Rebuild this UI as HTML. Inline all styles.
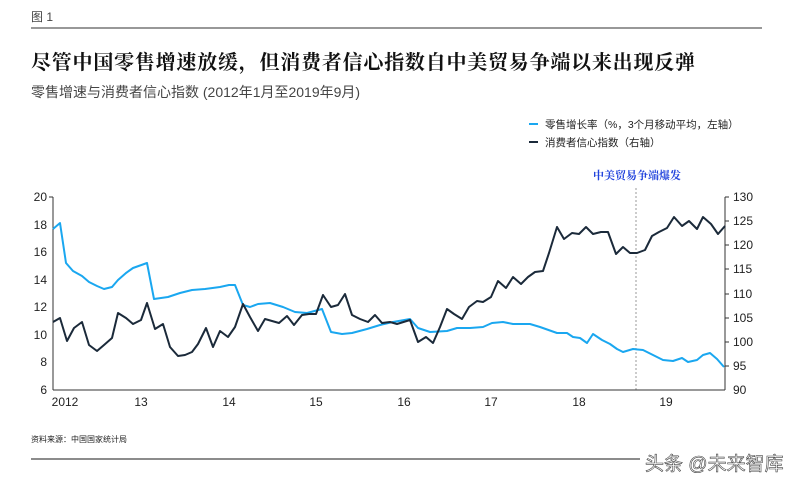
<!DOCTYPE html>
<html><head><meta charset="utf-8"><style>
body{margin:0;background:#fff;width:793px;height:490px;overflow:hidden;font-family:"Liberation Sans","Noto Sans CJK SC",sans-serif}
</style></head><body>
<svg width="793" height="490" viewBox="0 0 793 490" xmlns="http://www.w3.org/2000/svg" font-family="Liberation Sans, Noto Sans CJK SC, sans-serif">
<text x="31" y="21" font-size="12" fill="#444">图 1</text>
<line x1="31" y1="28" x2="762" y2="28" stroke="#777" stroke-width="1.5"/>
<text x="31" y="69" font-size="20" font-weight="bold" fill="#111" font-family="Noto Serif CJK SC, serif" textLength="664" lengthAdjust="spacing">尽管中国零售增速放缓，但消费者信心指数自中美贸易争端以来出现反弹</text>
<text x="31" y="97" font-size="14" fill="#444">零售增速与消费者信心指数 (2012年1月至2019年9月)</text>
<line x1="529" y1="124" x2="538" y2="124" stroke="#1aa7f0" stroke-width="2"/>
<text x="545" y="128" font-size="10.5" fill="#222">零售增长率（%，3个月移动平均，左轴）</text>
<line x1="529" y1="142" x2="538" y2="142" stroke="#1b2a3a" stroke-width="2"/>
<text x="545" y="146" font-size="10.5" fill="#222">消费者信心指数（右轴）</text>
<text x="637" y="179" font-size="11" font-weight="bold" fill="#2244dd" text-anchor="middle" font-family="Noto Serif CJK SC, serif">中美贸易争端爆发</text>
<line x1="636" y1="188" x2="636" y2="390" stroke="#999" stroke-width="1" stroke-dasharray="2,2"/>
<g stroke="#333" stroke-width="1" fill="none">
<line x1="53" y1="197" x2="53" y2="390"/><line x1="53" y1="390" x2="725" y2="390"/><line x1="725" y1="197" x2="725" y2="390"/>
</g>
<g font-size="12" fill="#222" text-anchor="end">
<text x="47" y="201">20</text><text x="47" y="229">18</text><text x="47" y="256">16</text><text x="47" y="284">14</text><text x="47" y="311">12</text><text x="47" y="339">10</text><text x="47" y="366">8</text><text x="47" y="394">6</text>
</g>
<g stroke="#333"><line x1="49" y1="197" x2="53" y2="197"/><line x1="725" y1="197" x2="729" y2="197"/><line x1="725" y1="221" x2="729" y2="221"/><line x1="725" y1="245" x2="729" y2="245"/><line x1="725" y1="269" x2="729" y2="269"/><line x1="725" y1="294" x2="729" y2="294"/><line x1="725" y1="318" x2="729" y2="318"/><line x1="725" y1="342" x2="729" y2="342"/><line x1="725" y1="366" x2="729" y2="366"/></g>
<g font-size="12" fill="#222">
<text x="733" y="201">130</text><text x="733" y="225">125</text><text x="733" y="249">120</text><text x="733" y="273">115</text><text x="733" y="298">110</text><text x="733" y="322">105</text><text x="733" y="346">100</text><text x="733" y="370">95</text><text x="733" y="394">90</text>
</g>
<g font-size="12" fill="#222" text-anchor="middle">
<text x="65" y="406">2012</text><text x="141" y="406">13</text><text x="229" y="406">14</text><text x="316" y="406">15</text><text x="404" y="406">16</text><text x="491" y="406">17</text><text x="579" y="406">18</text><text x="666" y="406">19</text>
</g>
<polyline fill="none" stroke="#1aa7f0" stroke-width="2" stroke-linejoin="round" points="53,229 60,223 66,263 73,271 82,276 89,282 97,286 104,289 112,287 118,280 126,273 133,268 147,263 154,299 168,297 180,293 192,290 205,289 220,287 229,285 235,285 243,305 250,307 258,304 270,303 283,307 295,312 307,313 322,309 331,332 342,334 352,333 367,329 380,325 393,322 410,319 418,328 430,332 447,331 457,328 470,328 483,327 492,323 503,322 513,324 530,324 540,327 557,333 567,333 573,337 580,338 587,343 593,334 602,340 610,344 617,349 623,352 633,349 643,350 653,355 663,360 673,361 682,358 688,362 697,360 703,355 710,353 717,359 724,367"/>
<polyline fill="none" stroke="#1b2a3a" stroke-width="2" stroke-linejoin="round" points="53,322 60,318 67,341 74,328 82,322 89,345 97,351 104,345 112,338 118,313 126,318 133,324 141,320 147,303 155,329 163,324 170,347 178,356 185,355 192,352 198,344 206,328 213,347 220,331 228,337 235,327 243,304 250,317 258,331 265,319 272,321 279,323 287,316 294,325 302,315 309,314 316,314 323,295 331,307 338,305 345,294 352,315 360,319 368,322 375,315 382,323 390,322 397,324 410,320 418,342 426,337 433,343 440,327 447,309 454,314 462,319 469,307 477,301 483,302 491,297 498,281 506,288 513,277 521,284 528,277 535,272 543,271 549,253 557,227 564,239 572,233 579,234 586,227 593,234 601,232 608,232 616,254 623,247 630,253 637,253 645,250 652,236 659,232 667,228 674,217 682,226 689,221 697,229 703,217 711,224 718,234 725,226"/>
<text x="31" y="442" font-size="8" fill="#222">资料来源：中国国家统计局</text>
<line x1="31" y1="459" x2="640" y2="459" stroke="#666" stroke-width="1.5"/>
<text x="645" y="470" font-size="19" fill="#fff" stroke="#444" stroke-width="0.6">头条 @未来智库</text>
</svg>
</body></html>
